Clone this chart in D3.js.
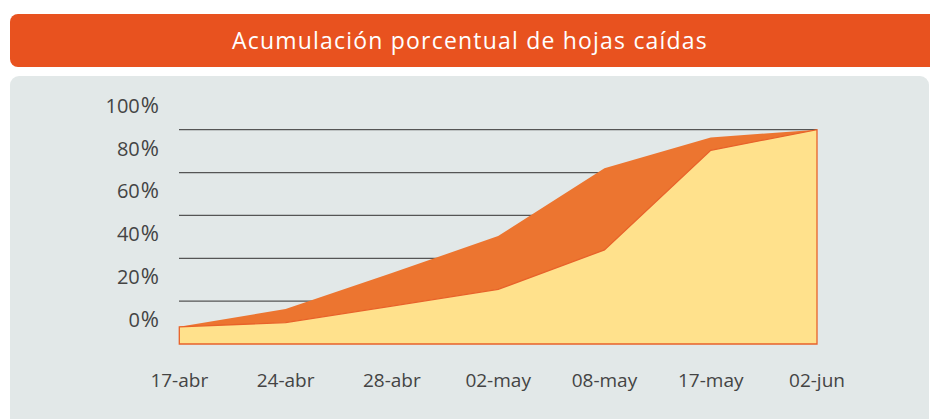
<!DOCTYPE html>
<html>
<head>
<meta charset="utf-8">
<script src="https://cdn.jsdelivr.net/npm/d3@7"></script>
<style>
  body { margin: 0; background: #fff; }
  text { font-family: 'Open Sans', sans-serif; }
</style>
</head>
<body>
<div id="chart"></div>
<script>
// Data
var fechas = ['17-abr', '24-abr', '28-abr', '02-may', '08-may', '17-may', '02-jun'];
var serieAlta = [8, 16.3, 33.1, 50.4, 82, 96.4, 100];   // orange
var serieBaja = [8, 10, 17.7, 25.5, 43.9, 90.4, 100];   // yellow
var yTicks = [0, 20, 40, 60, 80, 100];

var fullWidth = 930, fullHeight = 419;

var svg = d3.select('#chart').append('svg')
    .attr('width', fullWidth)
    .attr('height', fullHeight);

// Title bar (right side runs off the edge)
svg.append('rect')
    .attr('x', 10).attr('y', 14)
    .attr('width', 940).attr('height', 53)
    .attr('rx', 8)
    .style('fill', '#E8521F');

svg.append('text')
    .attr('x', 470).attr('y', 48.5)
    .attr('text-anchor', 'middle')
    .style('fill', '#fff')
    .style('font-size', '23px')
    .style('letter-spacing', '1.2px')
    .text('Acumulación porcentual de hojas caídas');

// Gray panel
svg.append('rect')
    .attr('x', 10).attr('y', 76)
    .attr('width', 919).attr('height', 352)
    .attr('rx', 9)
    .style('fill', '#E2E8E8');

// Scales
var xScale = d3.scalePoint()
    .domain(fechas)
    .range([179.3, 817]);

var yScale = d3.scaleLinear()
    .domain([0, 100])
    .range([344, 129.7]);

// Gridlines (0% hidden below the areas)
svg.append('g').selectAll('line.grid')
    .data(yTicks.filter(function (d) { return d > 0; }))
    .enter().append('line')
    .attr('x1', 179).attr('x2', 817)
    .attr('y1', function (d) { return yScale(d); })
    .attr('y2', function (d) { return yScale(d); })
    .style('stroke', '#555')
    .style('stroke-width', 1.2);

// Y labels sit half a step above their line
var ylab = svg.append('g').selectAll('text.ylab')
    .data(yTicks)
    .enter().append('text')
    .attr('x', 159)
    .attr('y', function (d) { return yScale(d) - 17; })
    .attr('text-anchor', 'end')
    .style('fill', '#444')
    .style('font-size', '20px');
ylab.append('tspan').text(function (d) { return d; });
ylab.append('tspan').attr('dx', 1).style('font-size', '22px').text('%');

// X labels
svg.append('g').selectAll('text.xlab')
    .data(fechas)
    .enter().append('text')
    .attr('x', function (d) { return xScale(d); })
    .attr('y', 387)
    .attr('text-anchor', 'middle')
    .style('fill', '#444')
    .style('font-size', '19px')
    .text(function (d) { return d; });

function areaFor(values) {
    return d3.area()
        .x(function (d, i) { return xScale(fechas[i]); })
        .y0(yScale(0))
        .y1(function (d) { return yScale(d); })(values);
}

// Orange area behind, yellow in front
svg.append('path')
    .attr('d', areaFor(serieAlta))
    .style('fill', '#EC7530');

svg.append('path')
    .attr('d', areaFor(serieBaja))
    .style('fill', '#FFE18C')
    .style('stroke', '#E8622A')
    .style('stroke-width', 1.3);
</script>
</body>
</html>
